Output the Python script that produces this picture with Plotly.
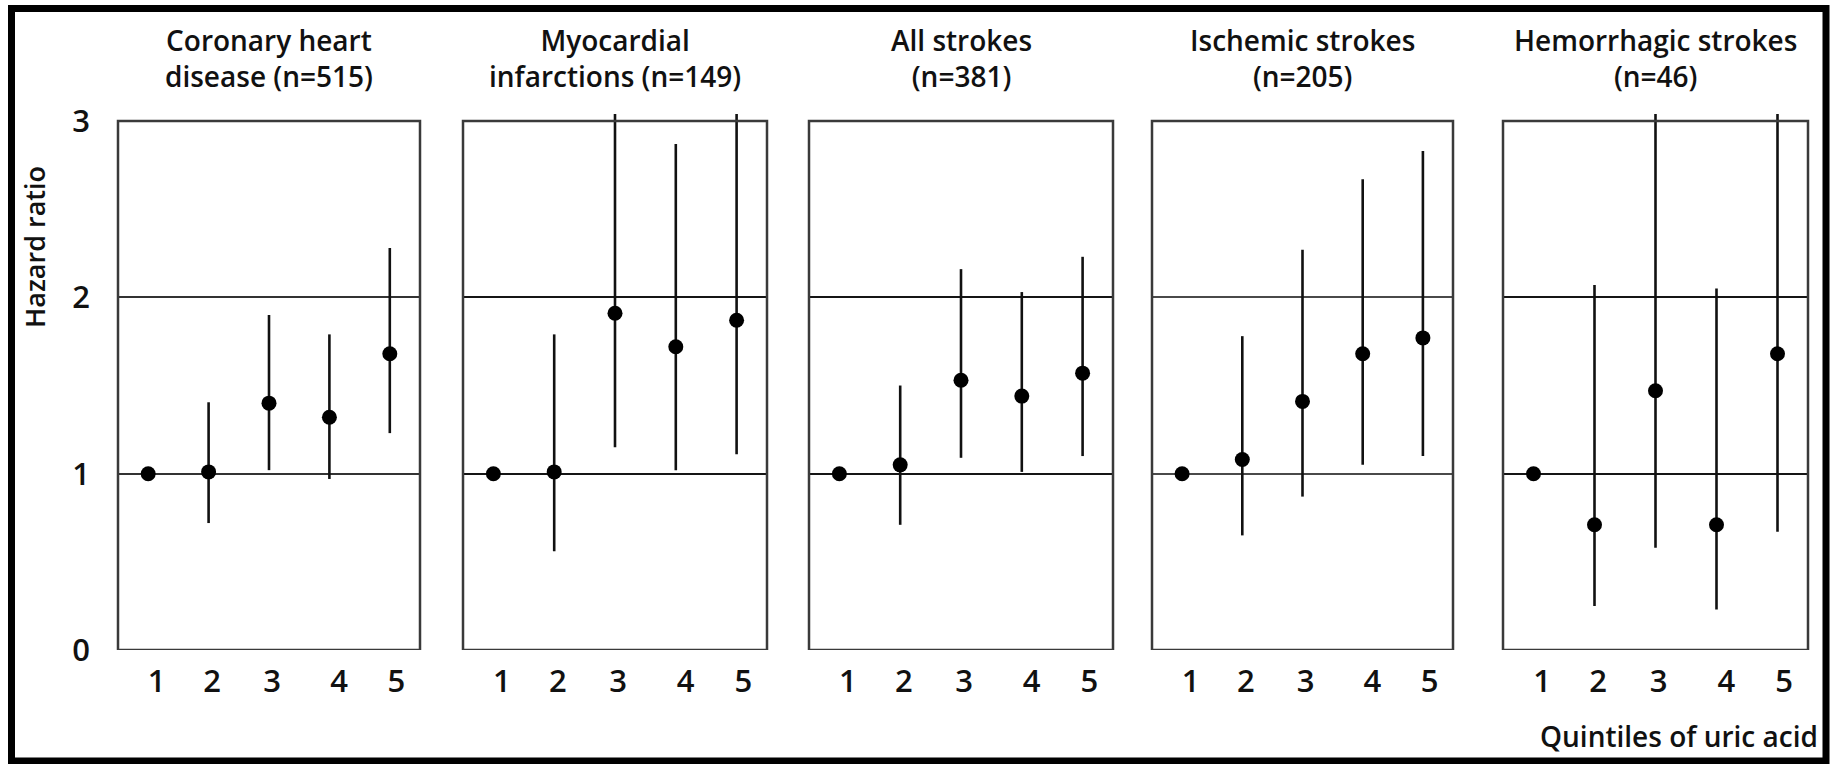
import plotly.graph_objects as go

# ---------------- data ----------------
quintiles = [1, 2, 3, 4, 5]
tick_labels = ["1", "2", "3", "4", "5"]

panel_titles = [
    "Coronary heart<br>disease (n=515)",
    "Myocardial<br>infarctions (n=149)",
    "All strokes<br>(n=381)",
    "Ischemic strokes<br>(n=205)",
    "Hemorrhagic strokes<br>(n=46)",
]

chd_hr = [1.00, 1.01, 1.40, 1.32, 1.68]
chd_lo = [1.00, 0.72, 1.02, 0.97, 1.23]
chd_hi = [1.00, 1.405, 1.90, 1.79, 2.28]

mi_hr = [1.00, 1.01, 1.91, 1.72, 1.87]
mi_lo = [1.00, 0.56, 1.15, 1.02, 1.11]
mi_hi = [1.00, 1.79, 3.04, 2.87, 3.04]

all_hr = [1.00, 1.05, 1.53, 1.44, 1.57]
all_lo = [1.00, 0.71, 1.09, 1.01, 1.10]
all_hi = [1.00, 1.50, 2.16, 2.03, 2.23]

isch_hr = [1.00, 1.08, 1.41, 1.68, 1.77]
isch_lo = [1.00, 0.65, 0.87, 1.05, 1.10]
isch_hi = [1.00, 1.78, 2.27, 2.67, 2.83]

hem_hr = [1.00, 0.71, 1.47, 0.71, 1.68]
hem_lo = [1.00, 0.25, 0.58, 0.23, 0.67]
hem_hi = [1.00, 2.07, 3.04, 2.05, 3.04]

y_ticks = [0, 1, 2, 3]

series = [
    (chd_hr, chd_lo, chd_hi),
    (mi_hr, mi_lo, mi_hi),
    (all_hr, all_lo, all_hi),
    (isch_hr, isch_lo, isch_hi),
    (hem_hr, hem_lo, hem_hi),
]

# ---------------- layout geometry (pixels) ----------------
W, H = 1831, 764
panel_px = [(118, 420), (463, 767), (809, 1113), (1152, 1453), (1503, 1808)]
tick_label_pos = [1.14, 2.06, 3.05, 4.16, 5.11]
grid_colors = ["#333333", "#151515", "#151515", "#4a4a4a", "#151515"]
y_bottom_px, y_top_px = 650, 113.1
FONT = "Open Sans"


def px_x(p):
    return p / W


def px_y(p):
    return 1 - p / H


fig = go.Figure()

for i, ((hr, lo, hi), (x0, x1)) in enumerate(zip(series, panel_px)):
    n = i + 1
    xa = "x" if n == 1 else f"x{n}"
    ya = "y" if n == 1 else f"y{n}"
    up = [h - v for h, v in zip(hi, hr)]
    dn = [v - l for v, l in zip(hr, lo)]
    fig.add_trace(go.Scatter(
        x=quintiles, y=hr, mode="markers",
        marker=dict(color="black", size=15, symbol="circle"),
        error_y=dict(type="data", symmetric=False, array=up, arrayminus=dn,
                     width=0, thickness=2.6, color="#111111"),
        xaxis=xa, yaxis=ya, showlegend=False, hoverinfo="skip",
    ))
    fig.update_layout(**{
        ("xaxis" if n == 1 else f"xaxis{n}"): dict(
            domain=[px_x(x0), px_x(x1)], range=[0.5, 5.5],
            tickvals=tick_label_pos, ticktext=tick_labels,
            showgrid=False, zeroline=False, showline=False, ticks="",
            tickfont=dict(family=FONT, size=31, color="#111", weight=600),
            ticklabelstandoff=10, anchor=ya, fixedrange=True, automargin=False,
        ),
        ("yaxis" if n == 1 else f"yaxis{n}"): dict(
            domain=[px_y(y_bottom_px), px_y(y_top_px)], range=[0, 3.045],
            tickvals=y_ticks, showticklabels=(n == 1),
            showgrid=True, gridcolor=grid_colors[i], gridwidth=2,
            zeroline=False, showline=False, ticks="",
            tickfont=dict(family=FONT, size=31, color="#111", weight=600),
            ticklabelstandoff=27, anchor=xa, fixedrange=True, automargin=False,
        ),
    })
    # panel box
    fig.add_shape(type="rect", xref=f"{xa} domain", yref=ya,
                  x0=0, x1=1, y0=0, y1=3,
                  line=dict(color="#3a3a3a", width=2.5), layer="above")
    fig.add_annotation(text=panel_titles[i], x=px_x((x0 + x1) / 2), y=px_y(58),
                       xref="paper", yref="paper", xanchor="center", yanchor="middle",
                       showarrow=False, align="center",
                       font=dict(family=FONT, size=28, color="#111", weight=600))

fig.add_annotation(text="Hazard ratio", x=px_x(35), y=px_y(247), xref="paper", yref="paper",
                   textangle=-90, showarrow=False, xanchor="center", yanchor="middle",
                   font=dict(family=FONT, size=27, color="#111", weight=600))
fig.add_annotation(text="Quintiles of uric acid", x=px_x(1820), y=px_y(736),
                   xref="paper", yref="paper", xanchor="right", yanchor="middle",
                   showarrow=False, font=dict(family=FONT, size=28, color="#111", weight=600))

# outer frame
fig.add_shape(type="rect", xref="paper", yref="paper",
              x0=px_x(11.5), x1=px_x(1826), y0=px_y(761), y1=px_y(8.5),
              line=dict(color="black", width=7), layer="above")

fig.update_layout(width=W, height=H,
                  margin=dict(l=0, r=0, t=0, b=0, pad=0, autoexpand=False),
                  paper_bgcolor="white", plot_bgcolor="white", showlegend=False)

fig.write_html("out.html", config={"displayModeBar": False},
               post_script="document.body.style.margin='0';document.body.style.overflow='hidden';")
